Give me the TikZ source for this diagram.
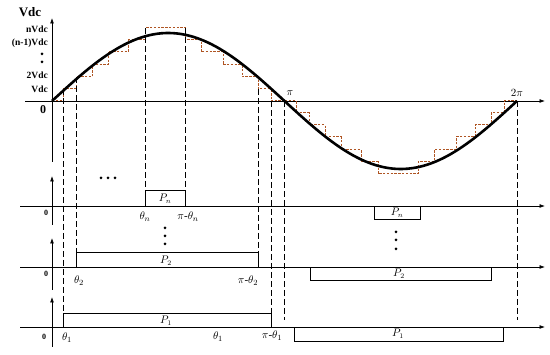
\documentclass[tikz,border=0pt]{standalone}
\usepackage{fontspec}
\setmainfont{Liberation Serif}
\usetikzlibrary{arrows.meta}
\definecolor{stairbrown}{RGB}{175,85,35}
\newcommand{\stairpath}{(52,101) -- (63,101) -- (63,89) -- (76,89) -- (76,77) -- (92,77) -- (92,65) -- (108,65) -- (108,52) -- (128,52) -- (128,40) -- (145,40) -- (145,28) -- (185,28) -- (185,40) -- (201,40) -- (201,52) -- (223,52) -- (223,65) -- (242,65) -- (242,77) -- (258,77) -- (258,89) -- (271,89) -- (271,101) -- (284,101)}

\begin{document}
\begin{tikzpicture}[
    x=1pt,y=-1pt,
    axis/.style={-{Latex[length=5.5pt,width=4pt]},line width=0.75pt},
    guide/.style={dash pattern=on 6pt off 3pt,line width=0.85pt},
    stair/.style={stairbrown,dash pattern=on 2.4pt off 1.4pt,line width=1pt},
    wave/.style={line width=2.6pt},
    pulse/.style={draw,line width=0.75pt},
    lvl/.style={font=\bfseries\fontsize{9.5}{10}\selectfont,anchor=east,inner sep=1pt},
    zero/.style={font=\bfseries\fontsize{8}{8}\selectfont,inner sep=1pt},
    ang/.style={font=\fontsize{11}{11}\selectfont,inner sep=1pt},
    plab/.style={font=\fontsize{10.5}{10}\selectfont,inner sep=0pt},
    dot/.style={circle,fill,inner sep=0pt,minimum size=3pt}
  ]
    \useasboundingbox (0,0) rectangle (550,355);

    % main axes
    \coordinate (o) at (52,101);
    \draw[axis] (25,101) -- (545,101);
    \draw[axis] (52,162) -- (52,18);
    \node[font=\bfseries\fontsize{13}{13}\selectfont] (vdc) at (30,12) {Vdc};
    \node[lvl] (ln) at (49,29) {nVdc};
    \node[lvl] (ln1) at (49,43) {(n-1)Vdc};
    \node[dot] (lv1) at (42,54) {};
    \node[dot] (lv2) at (42,62) {};
    \node[lvl] (l2) at (49,75) {2Vdc};
    \node[lvl] (l1) at (49,89) {Vdc};
    \node[font=\bfseries\fontsize{12}{12}\selectfont] (l0) at (43,110) {0};
    \node[ang] (pi) at (290,93) {$\pi$};
    \node[ang] (twopi) at (517,93) {$2\pi$};

    % staircase and sine
    \draw[stair] \stairpath;
    \begin{scope}[shift={(233,202)},yscale=-1]
      \draw[stair] \stairpath;
    \end{scope}
    \draw[wave] plot[domain=0:360,samples=120] ({52+\x*1.29167},{101-68*sin(\x)});

    % switching angles
    \foreach \gx/\gtop/\gbot in {63/89/313,76/77/252,145/28/190,185/28/190,258/89/252,271/101/313,284/101/320,517/101/320}
      \draw[guide] (\gx,\gtop) -- (\gx,\gbot);

    % pulse rows
    \foreach \ry/\rtop/\rbot in {206/176/225,267/238/290,327/297/347} {
      \draw[axis] (20,\ry) -- (545,\ry);
      \draw[axis] (52,\rbot) -- (52,\rtop);
    }
    \node[zero] (zn) at (46,213) {0};
    \node[zero] (z2) at (46,274) {0};
    \node[zero] (z1) at (44,337) {0};

    \draw[pulse] (145,206) rectangle (185,190);
    \draw[pulse] (374,206) rectangle (420,219);
    \draw[pulse] (76,267) rectangle (258,252);
    \draw[pulse] (310,267) rectangle (491,280);
    \draw[pulse] (63,327) rectangle (271,313);
    \draw[pulse] (294,327) rectangle (503,341);
    \node[plab] (pn) at (165,199) {$P_n$};
    \node[plab] (pnn) at (397,213) {$P_n$};
    \node[plab] (p2) at (166,261) {$P_2$};
    \node[plab] (p2n) at (399,274) {$P_2$};
    \node[plab] (p1) at (166,321) {$P_1$};
    \node[plab] (p1n) at (398,334) {$P_1$};

    \node[ang] (tn) at (145,217) {$\theta_n$};
    \node[ang] (ptn) at (188,217) {$\pi$-$\theta_n$};
    \node[ang] (t2) at (79,281) {$\theta_2$};
    \node[ang] (pt2) at (248,281) {$\pi$-$\theta_2$};
    \node[ang] (t1) at (67,338) {$\theta_1$};
    \node[ang] (t1b) at (218,337) {$\theta_1$};
    \node[ang] (pt1) at (272,336) {$\pi$-$\theta_1$};

    % omitted rows
    \foreach \hx in {101,108,115}
      \node[dot] at (\hx,178) {};
    \foreach \vy in {228,236,244}
      \node[dot] at (165,\vy) {};
    \foreach \vy in {232,240,249}
      \node[dot] at (396,\vy) {};
  \end{tikzpicture}
\end{document}
